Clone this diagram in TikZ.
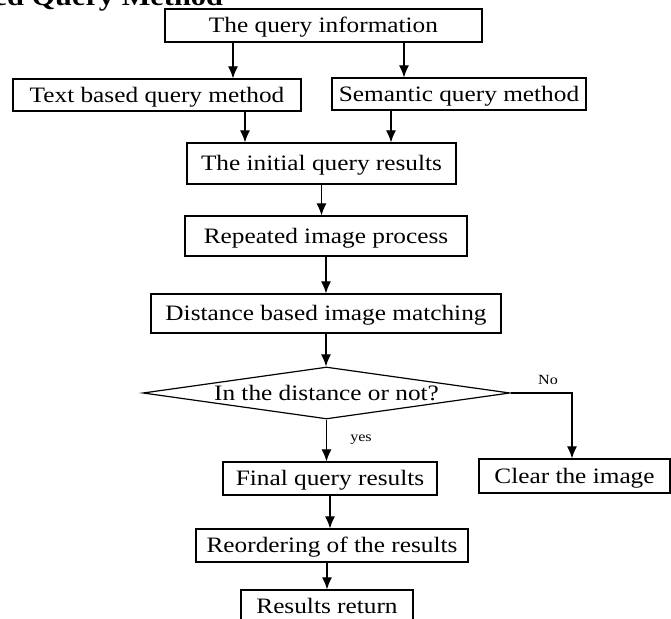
\documentclass[tikz,border=0pt]{standalone}
\usepackage{fontspec}
\setmainfont{Liberation Serif}[FakeStretch=1.15]
\usepackage{tikz}
\usetikzlibrary{arrows.meta}
\usetikzlibrary{shapes.geometric}

\begin{document}
\begin{tikzpicture}[x=0.5pt,y=-0.5pt,
    box/.style={draw,line width=0.6pt,inner sep=0pt,text height=7.3pt,text depth=0pt,
      minimum height=16.5pt,font=\fontsize{11}{13}\selectfont},
    decide/.style={draw,diamond,line width=0.6pt,aspect=7,inner sep=0pt,text height=7.3pt,
      text depth=0pt,minimum width=183.5pt,minimum height=26pt,font=\fontsize{11}{13}\selectfont},
    arr/.style={line width=0.6pt,-{Latex[length=6pt,width=5pt]}},
    lbl/.style={font=\fontsize{7}{8}\selectfont}]
    		\useasboundingbox (0,0) rectangle (671,619);
    		\node[anchor=base east,font=\fontsize{13.2}{15}\selectfont\bfseries] (title) at (230,6) {ed Query Method};
    		\node[box,minimum width=158.5pt] (info) at (323.5,25.5) {The query information};
    		\node[box,minimum width=144pt,minimum height=16pt] (text) at (157,95) {Text based query method};
    		\node[box,minimum width=127pt,minimum height=16pt] (sem) at (459,94) {Semantic query method};
    		\node[box,minimum width=134.5pt,minimum height=20.5pt] (init) at (321.5,163.5) {The initial query results};
    		\node[box,minimum width=141pt,minimum height=20pt] (rep) at (326,236) {Repeated image process};
    		\node[box,minimum width=175pt,minimum height=19.5pt] (dist) at (326,313.5) {Distance based image matching};
    		\node[decide] (dec) at (326.5,393) {In the distance or not?};
    		\node[box,minimum width=107pt] (final) at (330,478.5) {Final query results};
    		\node[box,minimum width=95.5pt,minimum height=17pt] (clear) at (574.5,476) {Clear the image};
    		\node[box,minimum width=136pt] (reorder) at (332,545.5) {Reordering of the results};
    		\node[box,minimum width=86pt] (results) at (327,606.5) {Results return};
    		\coordinate (turn) at (572,393);
    		\draw[arr] ([xshift=-45.25pt]info.south) -- ([xshift=-45.25pt]info.south |- text.north);
    		\draw[arr] ([xshift=40.25pt]info.south) -- ([xshift=40.25pt]info.south |- sem.north);
    		\draw[arr] ([xshift=44pt]text.south) -- ([xshift=44pt]text.south |- init.north);
    		\draw[arr] ([xshift=-34pt]sem.south) -- ([xshift=-34pt]sem.south |- init.north);
    		\draw[arr] (init.south) -- (init.south |- rep.north);
    		\draw[arr] (rep.south) -- (rep.south |- dist.north);
    		\draw[arr] (dist.south) -- (dist.south |- dec.north);
    		\draw[arr] (dec.south) -- (dec.south |- final.north);
    		\draw[arr] (dec.east) -- (turn) -- (turn |- clear.north);
    		\draw[arr] (final.south) -- (final.south |- reorder.north);
    		\draw[arr] (results.north |- reorder.south) -- (results.north);
    		\node[lbl] (yes) at (361,440) {yes};
    		\node[lbl] (no) at (548,380) {No};
\end{tikzpicture}
\end{document}
